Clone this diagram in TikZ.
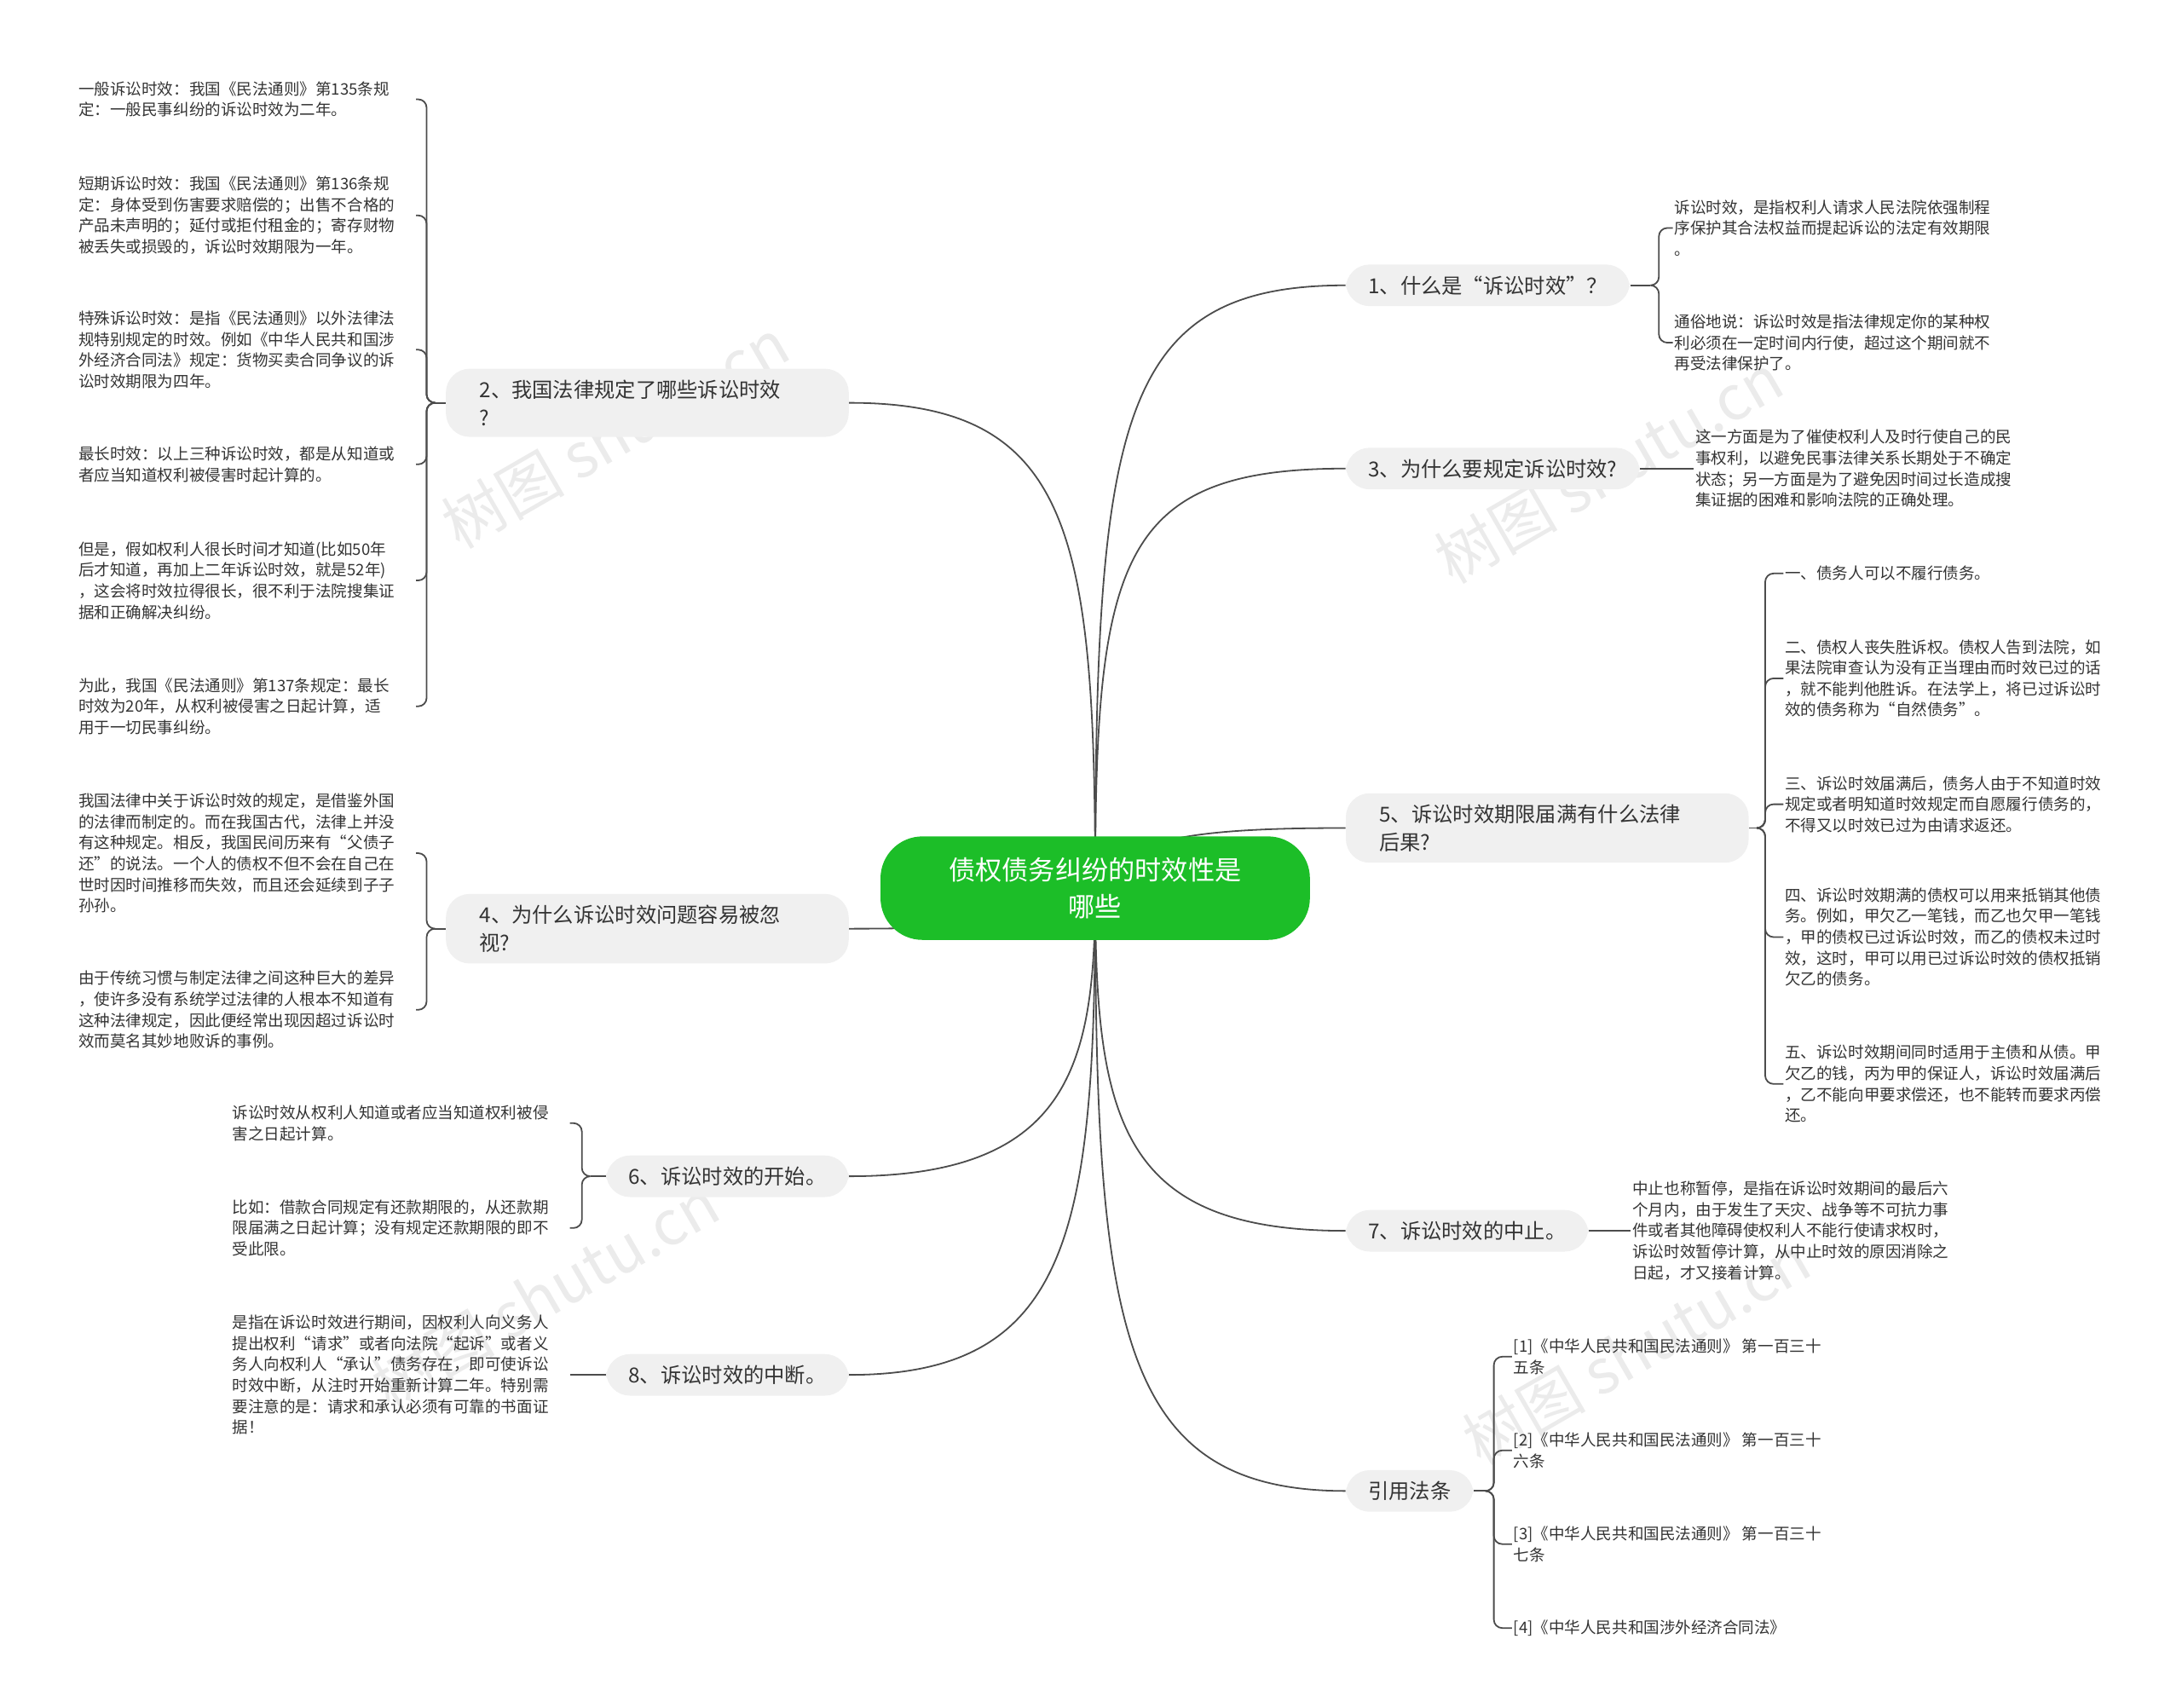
\documentclass[tikz,border=0pt]{standalone}
\usepackage{fontspec}
\setmainfont{Noto Sans CJK SC}
\usetikzlibrary{backgrounds}
\begin{document}
\begin{tikzpicture}[x=1pt,y=-1pt,
  con/.style={draw=black!70,line width=1.1pt},
  br/.style={rounded corners=17pt,fill=black!6,inner xsep=16pt,inner ysep=8pt,align=left,font=\fontsize{14.8}{20}\selectfont,text=black!80},
  br2/.style={br,text width=240pt,inner xsep=24pt},
  lf/.style={anchor=west,inner sep=1pt,align=left,font=\fontsize{11.3}{15}\selectfont,text=black!80},
  ll/.style={lf,text width=240pt},
  wm/.style={text=black!8,font=\fontsize{44}{44}\selectfont,rotate=30}]
\useasboundingbox (0,0) rectangle (1560,1220.6);
\node[wm] (w1) at (440,310) {树图 shutu.cn};
\node[wm] (w2) at (1150,335) {树图 shutu.cn};
\node[wm] (w3) at (1170,965) {树图 shutu.cn};
\node[wm] (w4) at (390,925) {树图 shutu.cn};
\node[rounded corners=30pt,fill={rgb,255:red,28;green,190;blue,40},text=white,minimum width=307pt,minimum height=74pt,align=center,font=\fontsize{19}{26}\selectfont] (c) at (783,635) {债权债务纠纷的时效性是\\哪些};
% right branches
\node[br,anchor=west] (b1) at (962,204) {1、什么是“诉讼时效”？};
\node[br,anchor=west] (b3) at (962,335) {3、为什么要规定诉讼时效?};
\node[br2,anchor=west] (b5) at (962,592) {5、诉讼时效期限届满有什么法律\\后果?};
\node[br,anchor=west] (b7) at (962,880) {7、诉讼时效的中止。};
\node[br,anchor=west] (b9) at (962,1066) {引用法条};
% left branches
\node[br2,anchor=east] (b2) at (607,288) {2、我国法律规定了哪些诉讼时效\\?};
\node[br2,anchor=east] (b4) at (607,664) {4、为什么诉讼时效问题容易被忽\\视?};
\node[br,anchor=east] (b6) at (607,841) {6、诉讼时效的开始。};
\node[br,anchor=east] (b8) at (607,983) {8、诉讼时效的中断。};
% leaves branch 1
\node[lf] (l11) at (1196,163) {诉讼时效，是指权利人请求人民法院依强制程\\序保护其合法权益而提起诉讼的法定有效期限\\。};
\node[lf] (l12) at (1196,245) {通俗地说：诉讼时效是指法律规定你的某种权\\利必须在一定时间内行使，超过这个期间就不\\再受法律保护了。};
\node[lf] (l31) at (1211,335) {这一方面是为了催使权利人及时行使自己的民\\事权利，以避免民事法律关系长期处于不确定\\状态；另一方面是为了避免因时间过长造成搜\\集证据的困难和影响法院的正确处理。};
\node[lf] (l51) at (1275,410) {一、债务人可以不履行债务。};
\node[lf] (l52) at (1275,485) {二、债权人丧失胜诉权。债权人告到法院，如\\果法院审查认为没有正当理由而时效已过的话\\，就不能判他胜诉。在法学上，将已过诉讼时\\效的债务称为“自然债务”。};
\node[lf] (l53) at (1275,575) {三、诉讼时效届满后，债务人由于不知道时效\\规定或者明知道时效规定而自愿履行债务的，\\不得又以时效已过为由请求返还。};
\node[lf] (l54) at (1275,670) {四、诉讼时效期满的债权可以用来抵销其他债\\务。例如，甲欠乙一笔钱，而乙也欠甲一笔钱\\，甲的债权已过诉讼时效，而乙的债权未过时\\效，这时，甲可以用已过诉讼时效的债权抵销\\欠乙的债务。};
\node[lf] (l55) at (1275,775) {五、诉讼时效期间同时适用于主债和从债。甲\\欠乙的钱，丙为甲的保证人，诉讼时效届满后\\，乙不能向甲要求偿还，也不能转而要求丙偿\\还。};
\node[lf] (l71) at (1166,880) {中止也称暂停，是指在诉讼时效期间的最后六\\个月内，由于发生了天灾、战争等不可抗力事\\件或者其他障碍使权利人不能行使请求权时，\\诉讼时效暂停计算，从中止时效的原因消除之\\日起，才又接着计算。};
\node[lf] (l91) at (1081,970) {[1]《中华人民共和国民法通则》 第一百三十\\五条};
\node[lf] (l92) at (1081,1037) {[2]《中华人民共和国民法通则》 第一百三十\\六条};
\node[lf] (l93) at (1081,1104) {[3]《中华人民共和国民法通则》 第一百三十\\七条};
\node[lf] (l94) at (1081,1164) {[4]《中华人民共和国涉外经济合同法》};
% left leaves
\node[ll] (l21) at (55,71) {一般诉讼时效：我国《民法通则》第135条规\\定：一般民事纠纷的诉讼时效为二年。};
\node[ll] (l22) at (55,154) {短期诉讼时效：我国《民法通则》第136条规\\定：身体受到伤害要求赔偿的；出售不合格的\\产品未声明的；延付或拒付租金的；寄存财物\\被丢失或损毁的，诉讼时效期限为一年。};
\node[ll] (l23) at (55,250) {特殊诉讼时效：是指《民法通则》以外法律法\\规特别规定的时效。例如《中华人民共和国涉\\外经济合同法》规定：货物买卖合同争议的诉\\讼时效期限为四年。};
\node[ll] (l24) at (55,332) {最长时效：以上三种诉讼时效，都是从知道或\\者应当知道权利被侵害时起计算的。};
\node[ll] (l25) at (55,415) {但是，假如权利人很长时间才知道(比如50年\\后才知道，再加上二年诉讼时效，就是52年)\\，这会将时效拉得很长，很不利于法院搜集证\\据和正确解决纠纷。};
\node[ll] (l26) at (55,505) {为此，我国《民法通则》第137条规定：最长\\时效为20年，从权利被侵害之日起计算，适\\用于一切民事纠纷。};
\node[ll] (l41) at (55,610) {我国法律中关于诉讼时效的规定，是借鉴外国\\的法律而制定的。而在我国古代，法律上并没\\有这种规定。相反，我国民间历来有“父债子\\还”的说法。一个人的债权不但不会在自己在\\世时因时间推移而失效，而且还会延续到子子\\孙孙。};
\node[ll] (l42) at (55,722) {由于传统习惯与制定法律之间这种巨大的差异\\，使许多没有系统学过法律的人根本不知道有\\这种法律规定，因此便经常出现因超过诉讼时\\效而莫名其妙地败诉的事例。};
\node[ll] (l61) at (165,803) {诉讼时效从权利人知道或者应当知道权利被侵\\害之日起计算。};
\node[ll] (l62) at (165,878) {比如：借款合同规定有还款期限的，从还款期\\限届满之日起计算；没有规定还款期限的即不\\受此限。};
\node[ll] (l81) at (165,983) {是指在诉讼时效进行期间，因权利人向义务人\\提出权利“请求”或者向法院“起诉”或者义\\务人向权利人“承认”债务存在，即可使诉讼\\时效中断，从注时开始重新计算二年。特别需\\要注意的是：请求和承认必须有可靠的书面证\\据！};
\begin{scope}[on background layer]
\draw[con] (c.center) .. controls (783,300) and (800,204) .. (b1.west);
\draw[con] (c.center) .. controls (783,400) and (800,335) .. (b3.west);
\draw[con] (c.center) .. controls (800,600) and (850,592) .. (b5.west);
\draw[con] (c.center) .. controls (783,800) and (800,880) .. (b7.west);
\draw[con] (c.center) .. controls (783,950) and (800,1066) .. (b9.west);
\draw[con] (c.center) .. controls (783,380) and (766,288) .. (b2.east);
\draw[con] (c.center) .. controls (760,660) and (700,664) .. (b4.east);
\draw[con] (c.center) .. controls (783,760) and (766,841) .. (b6.east);
\draw[con] (c.center) .. controls (783,880) and (766,983) .. (b8.east);
\end{scope}
\begin{scope}[rounded corners=6pt]
\coordinate (h1) at (1180,204);
\draw[con] (b1.east) -- (h1);
\foreach \l in {l11,l12} \draw[con] (h1) -- (1186,204) |- (\l.west);
\draw[con] (b3.east) -- (l31.west);
\coordinate (h5) at (1256,592);
\draw[con] (b5.east) -- (h5);
\foreach \l in {l51,l52,l53,l54,l55} \draw[con] (h5) -- (1262,592) |- (\l.west);
\draw[con] (b7.east) -- (l71.west);
\coordinate (h9) at (1062,1066);
\draw[con] (b9.east) -- (h9);
\foreach \l in {l91,l92,l93,l94} \draw[con] (h9) -- (1068,1066) |- (\l.west);
\coordinate (h2) at (311,288);
\draw[con] (b2.west) -- (h2);
\foreach \l in {l21,l22,l23,l24,l25,l26} \draw[con] (h2) -- (305,288) |- (\l.east);
\coordinate (h4) at (311,664);
\draw[con] (b4.west) -- (h4);
\foreach \l in {l41,l42} \draw[con] (h4) -- (305,664) |- (\l.east);
\coordinate (h6) at (422,841);
\draw[con] (b6.west) -- (h6);
\foreach \l in {l61,l62} \draw[con] (h6) -- (416,841) |- (\l.east);
\draw[con] (b8.west) -- (l81.east);
\end{scope}
\end{tikzpicture}
\end{document}
